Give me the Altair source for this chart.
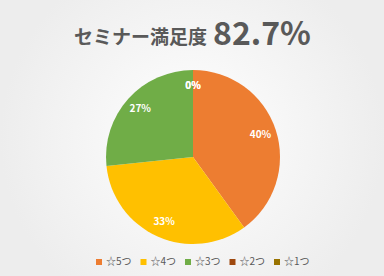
import altair as alt
import pandas as pd

ratings = ["☆5つ", "☆4つ", "☆3つ", "☆2つ", "☆1つ"]
counts = [6, 5, 4, 0, 0]
colors = ["#ED7D31", "#FFC000", "#70AD47", "#9E480E", "#997300"]
title_text = ["セミナー満足度"]
score_text = ["82.7%"]

FONT = "Noto Sans CJK JP"
W, H = 384, 276
CX, CY = 193, 157

df = pd.DataFrame({"rating": ratings, "count": counts, "rank": list(range(len(ratings)))})
df["pct"] = df["count"] / df["count"].sum()

bg = alt.Chart(pd.DataFrame({"a": [0]})).mark_rect(
    fill=alt.RadialGradient(
        gradient="radial",
        stops=[
            alt.GradientStop(offset=0, color="#ffffff"),
            alt.GradientStop(offset=1, color="#ededed"),
        ],
    )
).encode(x=alt.value(0), x2=alt.value(W), y=alt.value(0), y2=alt.value(H))

base = alt.Chart(df).encode(
    theta=alt.Theta("count:Q", stack=True),
    order=alt.Order("rank:Q"),
)

pie = base.mark_arc(outerRadius=87).encode(
    color=alt.Color(
        "rating:N",
        scale=alt.Scale(domain=ratings, range=colors),
        legend=alt.Legend(
            title=None,
            orient="none",
            legendX=94,
            legendY=257,
            direction="horizontal",
            symbolType="square",
            symbolSize=36,
            symbolStrokeWidth=0,
            labelFontSize=10,
            labelColor="#595959",
            labelFont=FONT,
            labelOffset=2,
            columnPadding=6.5,
            padding=0,
        ),
    ),
    x=alt.value(CX),
    y=alt.value(CY),
)

labels = base.mark_text(
    radius=71, color="white", fontSize=10, fontWeight="bold", font=FONT
).encode(
    text=alt.Text("pct:Q", format=".0%"),
    x=alt.value(CX),
    y=alt.value(CY),
)

t1 = alt.Chart(pd.DataFrame({"t": title_text})).mark_text(
    align="right", baseline="alphabetic", fontSize=19, fontWeight="bold",
    color="#595959", font=FONT
).encode(text="t:N", x=alt.value(207), y=alt.value(44))

t2 = alt.Chart(pd.DataFrame({"t": score_text})).mark_text(
    align="left", baseline="alphabetic", fontSize=32, fontWeight="bold",
    color="#595959", font=FONT
).encode(text="t:N", x=alt.value(213), y=alt.value(45))

chart = alt.layer(bg, pie, labels, t1, t2).properties(
    width=W, height=H, padding=0, autosize="none"
).configure_view(stroke=None).configure(background="#f2f2f2")

chart.save("out.html", embed_options={"renderer": "svg", "actions": False})
